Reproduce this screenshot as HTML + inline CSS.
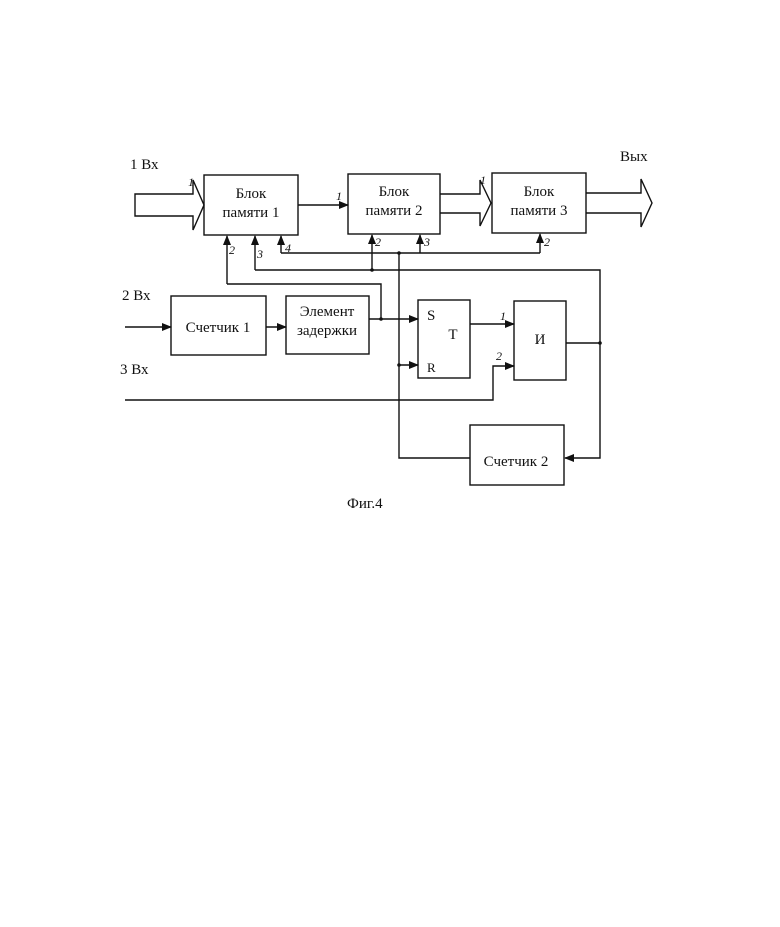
<!DOCTYPE html>
<html><head><meta charset="utf-8"><style>
html,body{margin:0;padding:0;background:#fff;}
svg{display:block;}
text{font-family:"Liberation Serif",serif;fill:#111;}
.h{font-family:"DejaVu Sans",sans-serif;font-style:italic;font-size:12px;fill:#333;}
</style></head><body>
<svg width="780" height="927" viewBox="0 0 780 927" xmlns="http://www.w3.org/2000/svg">
<defs><marker id="a" markerWidth="10" markerHeight="8" refX="9" refY="4" orient="auto" markerUnits="userSpaceOnUse"><path d="M0,0 L10,4 L0,8 z" fill="#111"/></marker></defs>
<g stroke="#111" stroke-width="1.4" fill="none">
<rect x="204" y="175" width="94" height="60"/>
<rect x="348" y="174" width="92" height="60"/>
<rect x="492" y="173" width="94" height="60"/>
<rect x="171" y="296" width="95" height="59"/>
<rect x="286" y="296" width="83" height="58"/>
<rect x="418" y="300" width="52" height="78"/>
<rect x="514" y="301" width="52" height="79"/>
<rect x="470" y="425" width="94" height="60"/>
<path d="M135,194 H193 V180 L204,205 L193,230 V216 H135 Z"/>
<path d="M440,194 H480 V180 L491,203 L480,226 V213 H440"/>
<path d="M586,193 H641 V179 L652,203 L641,227 V213 H586"/>
<path d="M298,205 H348" marker-end="url(#a)"/>
<path d="M281,253 H540"/>
<path d="M281,253 V236" marker-end="url(#a)"/>
<path d="M420,253 V235" marker-end="url(#a)"/>
<path d="M540,253 V234" marker-end="url(#a)"/>
<path d="M255,270 H600 V458 H565" marker-end="url(#a)"/>
<path d="M255,270 V236" marker-end="url(#a)"/>
<path d="M372,270 V235" marker-end="url(#a)"/>
<path d="M227,284 H381 V319"/>
<path d="M227,284 V236" marker-end="url(#a)"/>
<path d="M399,253 V458 H470"/>
<path d="M125,327 H171" marker-end="url(#a)"/>
<path d="M266,327 H286" marker-end="url(#a)"/>
<path d="M369,319 H418" marker-end="url(#a)"/>
<path d="M399,365 H418" marker-end="url(#a)"/>
<path d="M470,324 H514" marker-end="url(#a)"/>
<path d="M125,400 H493 V366 H514" marker-end="url(#a)"/>
<path d="M566,343 H600"/>
</g>
<g fill="#111">
<circle cx="399" cy="253" r="1.8"/><circle cx="372" cy="270" r="1.8"/>
<circle cx="381" cy="319" r="1.8"/><circle cx="399" cy="365" r="1.8"/>
<circle cx="600" cy="343" r="1.8"/>
</g>
<g font-size="15" text-anchor="middle">
<text x="251" y="198">Блок</text><text x="251" y="217">памяти 1</text>
<text x="394" y="196">Блок</text><text x="394" y="215">памяти 2</text>
<text x="539" y="196">Блок</text><text x="539" y="215">памяти 3</text>
<text x="218" y="332">Счетчик 1</text>
<text x="327" y="316">Элемент</text><text x="327" y="335">задержки</text>
<text x="516" y="466">Счетчик 2</text>
<text x="540" y="344">И</text>
<text x="453" y="339">T</text>
</g>
<g font-size="15">
<text x="427" y="320">S</text>
<text x="427" y="372" font-size="13">R</text>
<text x="130" y="169">1 Вх</text>
<text x="620" y="161">Вых</text>
<text x="122" y="300">2 Вх</text>
<text x="120" y="374">3 Вх</text>
<text x="347" y="508">Фиг.4</text>
</g>
<g class="h">
<text x="188" y="186">1</text><text x="336" y="200">1</text><text x="480" y="184">1</text>
<text x="229" y="254">2</text><text x="257" y="258">3</text><text x="285" y="252">4</text>
<text x="375" y="246">2</text><text x="424" y="246">3</text><text x="544" y="246">2</text>
<text x="500" y="320">1</text><text x="496" y="360">2</text>
</g>
</svg>
</body></html>
